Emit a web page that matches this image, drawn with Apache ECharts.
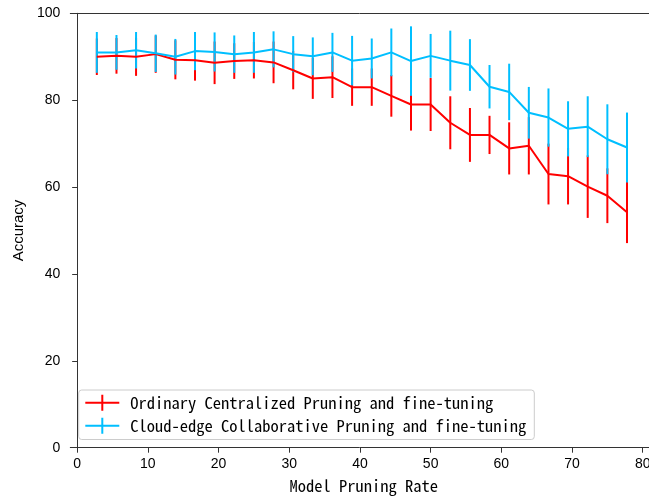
<!DOCTYPE html>
<html>
<head>
<meta charset="utf-8">
<script src="https://cdn.jsdelivr.net/npm/echarts@6/dist/echarts.min.js"></script>
<style>html,body{margin:0;padding:0;background:#fff}#c{width:649px;height:497px}</style>
</head>
<body>
<div id="c"></div>
<script>
const pruningRate = [2.78, 5.56, 8.33, 11.11, 13.89, 16.67, 19.44, 22.22, 25.0, 27.78, 30.56, 33.33, 36.11, 38.89, 41.67, 44.44, 47.22, 50.0, 52.78, 55.56, 58.33, 61.11, 63.89, 66.67, 69.44, 72.22, 75.0, 77.78];
const centralMean = [90.0, 90.2, 90.0, 90.6, 89.3, 89.2, 88.6, 89.0, 89.2, 88.7, 86.9, 85.0, 85.3, 83.0, 83.0, 81.0, 79.0, 79.0, 74.8, 72.0, 72.0, 68.9, 69.5, 63.0, 62.5, 60.1, 58.0, 54.2];
const centralErr = [4.2, 4.1, 4.4, 4.3, 4.5, 4.7, 4.9, 4.1, 4.2, 4.8, 4.4, 4.7, 4.8, 4.3, 4.3, 4.8, 6.0, 6.1, 6.1, 6.2, 4.4, 6.0, 6.6, 7.0, 6.5, 7.2, 6.3, 7.1];
const cloudMean = [91.0, 91.0, 91.5, 90.8, 90.0, 91.3, 91.1, 90.6, 91.0, 91.7, 90.6, 90.1, 91.0, 89.1, 89.6, 91.0, 89.0, 90.2, 89.1, 88.1, 83.1, 81.9, 77.1, 76.0, 73.4, 73.9, 71.0, 69.1];
const cloudErr = [4.7, 4.0, 4.2, 4.3, 4.1, 4.4, 4.5, 4.3, 4.7, 4.15, 4.15, 4.35, 4.5, 5.7, 4.6, 5.5, 8.0, 5.05, 6.9, 5.95, 5.0, 6.5, 5.95, 6.7, 6.35, 7.0, 8.05, 8.05];
const xTicks = [0, 10, 20, 30, 40, 50, 60, 70, 80];
const yTicks = [0, 20, 40, 60, 80, 100];
const seriesNames = ['Ordinary Centralized Pruning and fine-tuning', 'Cloud-edge Collaborative Pruning and fine-tuning'];
const xLabel = 'Model Pruning Rate';
const yLabel = 'Accuracy';

const RED = '#ff0000', BLUE = '#00bfff';
const monoFont = "'Noto Sans Mono CJK SC', 'Liberation Mono', monospace";
const tickFont = "'Liberation Sans', Arial, sans-serif";

function errData(mean, err) {
  return pruningRate.map((x, i) => [x, mean[i] - err[i], mean[i] + err[i]]);
}
function lineData(mean) {
  return pruningRate.map((x, i) => [x, mean[i]]);
}
function errRenderer(color) {
  return function (params, api) {
    const p1 = api.coord([api.value(0), api.value(1)]);
    const p2 = api.coord([api.value(0), api.value(2)]);
    return { type: 'line', shape: { x1: p1[0], y1: p1[1], x2: p2[0], y2: p2[1] },
             style: { stroke: color, lineWidth: 2 } };
  };
}
const crossIcon = 'path://M0,7h34v2h-34z M16,0h2v16h-2z';
const X_MIN = -0.972, X_MAX = 80.89;

const chart = echarts.init(document.getElementById('c'), null, { renderer: 'canvas' });
chart.setOption({
  animation: false,
  backgroundColor: '#fff',
  grid: { left: 70.3, top: 13.3, right: 0, bottom: 49.3, show: false, containLabel: false, outerBoundsMode: 'none' },
  xAxis: [{
    type: 'value', min: X_MIN, max: X_MAX,
    name: xLabel, nameLocation: 'middle', nameGap: 30,
    nameTextStyle: { fontFamily: monoFont, fontSize: 16.5, color: '#000', padding: [0, 0, 0, 8] },
    axisLine: { show: true, lineStyle: { color: '#333', width: 1 } },
    axisTick: { show: true, length: 5, lineStyle: { color: '#333' }, customValues: xTicks },
    axisLabel: { color: '#000', fontFamily: tickFont, fontSize: 14, margin: 9, customValues: xTicks },
    splitLine: { show: false }
  }, {
    type: 'value', position: 'top', min: X_MIN, max: X_MAX,
    axisLine: { show: true, lineStyle: { color: '#333', width: 1 } },
    axisTick: { show: false }, axisLabel: { show: false }, splitLine: { show: false }
  }],
  yAxis: {
    type: 'value', min: 0, max: 100, interval: 20,
    name: yLabel, nameLocation: 'middle', nameGap: 44, nameRotate: 90,
    nameTextStyle: { fontFamily: tickFont, fontSize: 15, color: '#000' },
    axisLine: { show: true, lineStyle: { color: '#333', width: 1 } },
    axisTick: { show: true, length: 5, lineStyle: { color: '#333' }, customValues: yTicks },
    axisLabel: { color: '#000', fontFamily: tickFont, fontSize: 14, margin: 10, customValues: yTicks },
    splitLine: { show: false }
  },
  legend: {
    orient: 'vertical', left: 78.7, top: 390,
    data: seriesNames,
    icon: crossIcon, itemWidth: 34, itemHeight: 16, itemGap: 6.5,
    padding: [4.5, 8, 5.5, 6.6],
    backgroundColor: 'rgba(255,255,255,0.8)', borderColor: '#cccccc', borderWidth: 1, borderRadius: 3,
    textStyle: { fontFamily: monoFont, fontSize: 16.5, color: '#000', padding: [0, 0, 0, 6] }
  },
  series: [
    { type: 'custom', name: 'err0', data: errData(centralMean, centralErr), renderItem: errRenderer(RED), encode: { x: 0, y: [1, 2] }, z: 2, silent: true },
    { type: 'custom', name: 'err1', data: errData(cloudMean, cloudErr), renderItem: errRenderer(BLUE), encode: { x: 0, y: [1, 2] }, z: 3, silent: true },
    { type: 'line', name: seriesNames[0], data: lineData(centralMean), showSymbol: false, color: RED, lineStyle: { color: RED, width: 2 }, z: 4 },
    { type: 'line', name: seriesNames[1], data: lineData(cloudMean), showSymbol: false, color: BLUE, lineStyle: { color: BLUE, width: 2 }, z: 5 }
  ]
});
</script>
</body>
</html>
